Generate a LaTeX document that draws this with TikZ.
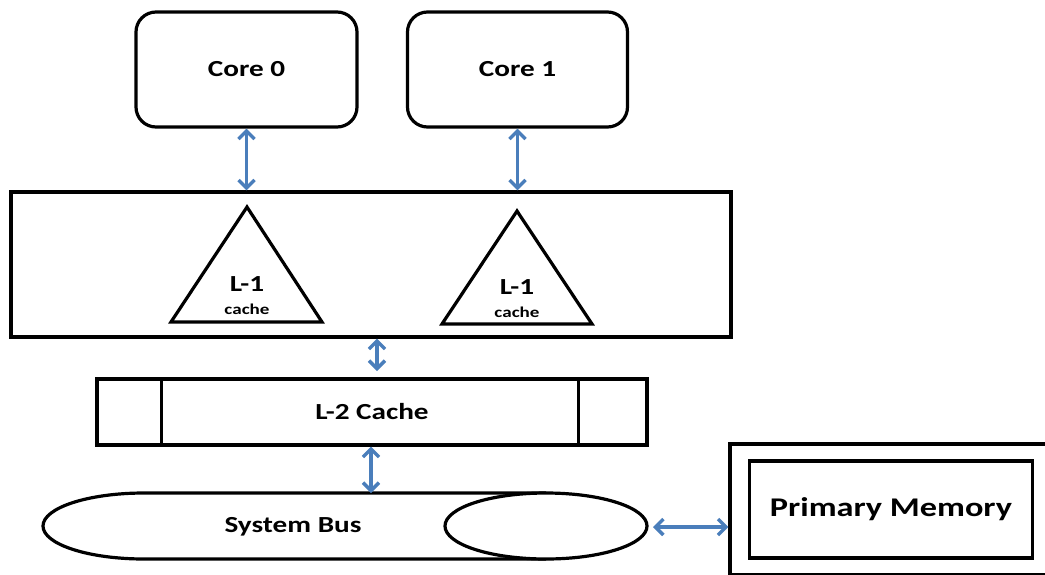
\documentclass[tikz,border=0pt]{standalone}
\usepackage{fontspec}
\setmainfont[FakeStretch=1.27]{Carlito}
\usetikzlibrary{arrows.meta}
\definecolor{arrowblue}{RGB}{74,126,187}
\tikzset{
  corebox/.style={draw, line width=3.2pt, rounded corners=20pt, minimum height=115pt, font=\fontsize{23}{23}\selectfont\bfseries},
  plainbox/.style={draw, line width=3.2pt, inner sep=0pt},
  shapeline/.style={draw, line width=3.2pt},
  bigtxt/.style={font=\fontsize{23}{23}\selectfont\bfseries, inner sep=0pt},
  smalltxt/.style={font=\fontsize{15}{15}\selectfont\bfseries, inner sep=0pt},
  memtxt/.style={font=\fontsize{27}{27}\selectfont\bfseries},
  conn/.style={draw=arrowblue, line width=3.4pt, {Straight Barb[length=8pt,width=16pt]}-{Straight Barb[length=8pt,width=16pt]}}
}
\begin{document}
\begin{tikzpicture}[x=1pt, y=-1pt]
\useasboundingbox (0,0) rectangle (1045,574);
% cores
\node[corebox, minimum width=221pt] (core0) at (246.5,69.5) {Core 0};
\node[corebox, minimum width=220pt] (core1) at (517.5,69.5) {Core 1};
% L1 container
\node[plainbox, minimum width=720pt, minimum height=145pt] (l1box) at (371,264.5) {};
% triangles
\draw[shapeline, line join=miter] (247,207) -- (171,322) -- (322,322) -- cycle;
\draw[shapeline, line join=miter] (517,211) -- (442,324) -- (592,324) -- cycle;
\node[bigtxt] (l1a) at (247,284) {L-1};
\node[smalltxt] (ca) at (247,309) {cache};
\node[bigtxt] (l1b) at (517,287) {L-1};
\node[smalltxt] (cb) at (517,312) {cache};
% L2
\node[plainbox, minimum width=550pt, minimum height=66pt, font=\fontsize{23}{23}\selectfont\bfseries] (l2) at (372,412) {L-2 Cache};
\draw[shapeline] ([xshift=66pt]l2.north west) -- ([xshift=66pt]l2.south west);
\draw[shapeline] ([xshift=-70pt]l2.north east) -- ([xshift=-70pt]l2.south east);
% system bus
\draw[shapeline] (546,493) -- (144,493) arc[start angle=90, end angle=270, x radius=101pt, y radius=33pt] -- (546,559);
\draw[shapeline, fill=white] (546,526) ellipse[x radius=101pt, y radius=33pt];
\node[bigtxt] (bus) at (293,527) {System Bus};
% memory (outer frame runs past the right and bottom edges)
\node[plainbox, minimum width=318pt, minimum height=131pt] (memout) at (889,509.5) {};
\node[plainbox, memtxt, minimum width=283pt, minimum height=97pt] (mem) at (891,509.5) {Primary Memory};
% connectors
\coordinate (l2in) at (377,371);
\coordinate (bustop) at (371,493);
\coordinate (busend) at (653,527);
\draw[conn] (core0.south) -- (core0.south |- l1box.north);
\draw[conn] (core1.south) -- (core1.south |- l1box.north);
\draw[conn] (l1box.south -| l2in) -- (l2in);
\draw[conn] (l2.south -| bustop) -- (bustop);
\draw[conn] (busend) -- (busend -| memout.west);
\end{tikzpicture}
\end{document}
